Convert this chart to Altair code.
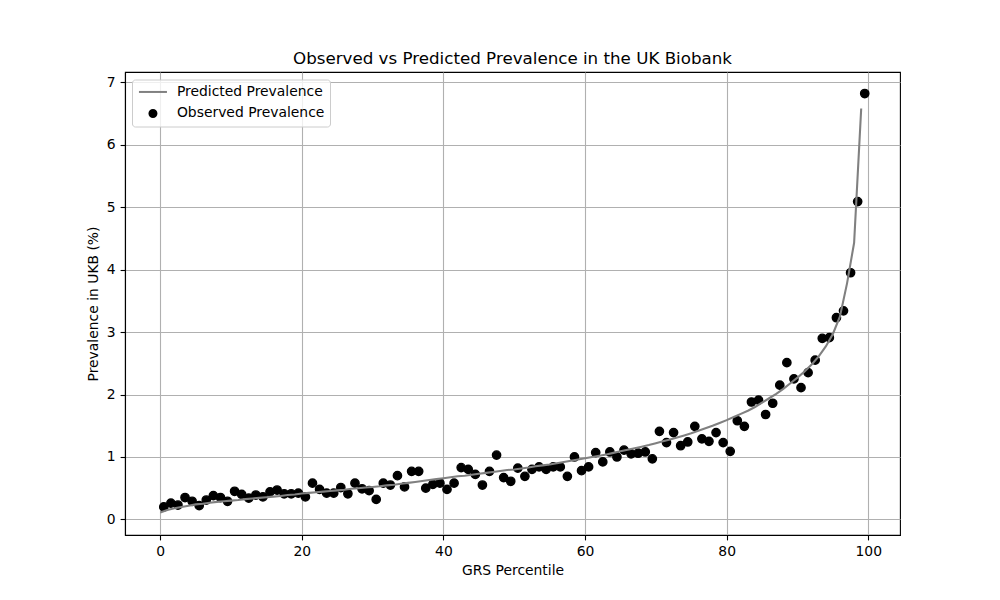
import altair as alt
import pandas as pd

# Observed prevalence (%) per GRS percentile bin (x = 0.5 ... 99.5)
obs_x = [i + 0.5 for i in range(100)]
obs_y = [
    0.20, 0.26, 0.23, 0.35, 0.29, 0.22, 0.31, 0.38, 0.35, 0.29,
    0.45, 0.40, 0.34, 0.39, 0.36, 0.44, 0.47, 0.41, 0.41, 0.42,
    0.36, 0.58, 0.48, 0.42, 0.42, 0.51, 0.41, 0.58, 0.49, 0.46,
    0.32, 0.58, 0.55, 0.70, 0.52, 0.77, 0.77, 0.50, 0.56, 0.58,
    0.48, 0.58, 0.83, 0.80, 0.72, 0.55, 0.77, 1.03, 0.67, 0.61,
    0.82, 0.69, 0.80, 0.84, 0.80, 0.84, 0.84, 0.69, 1.00, 0.78,
    0.84, 1.07, 0.92, 1.08, 1.00, 1.11, 1.05, 1.06, 1.08, 0.97,
    1.41, 1.23, 1.39, 1.18, 1.24, 1.49, 1.29, 1.25, 1.39, 1.23,
    1.09, 1.58, 1.49, 1.88, 1.91, 1.68, 1.86, 2.15, 2.51, 2.25,
    2.11, 2.35, 2.55, 2.90, 2.91, 3.23, 3.34, 3.95, 5.09, 6.82,
]

# Predicted prevalence (%) at percentiles 0 ... 99
pred_x = list(range(100))
pred_y = [
    0.11, 0.15, 0.18, 0.20, 0.22, 0.24, 0.25, 0.265, 0.28, 0.29,
    0.30, 0.31, 0.325, 0.335, 0.345, 0.355, 0.365, 0.375, 0.39, 0.40,
    0.415, 0.425, 0.435, 0.445, 0.455, 0.465, 0.475, 0.49, 0.50, 0.51,
    0.52, 0.53, 0.545, 0.555, 0.57, 0.585, 0.60, 0.615, 0.63, 0.645,
    0.66, 0.675, 0.69, 0.70, 0.715, 0.73, 0.745, 0.76, 0.775, 0.79,
    0.80, 0.815, 0.83, 0.85, 0.865, 0.88, 0.90, 0.92, 0.94, 0.96,
    0.98, 1.00, 1.02, 1.04, 1.065, 1.09, 1.115, 1.14, 1.165, 1.19,
    1.22, 1.25, 1.28, 1.31, 1.345, 1.38, 1.42, 1.46, 1.50, 1.545,
    1.59, 1.64, 1.69, 1.74, 1.80, 1.87, 1.94, 2.01, 2.09, 2.18,
    2.27, 2.37, 2.48, 2.61, 2.77, 2.97, 3.25, 3.78, 4.43, 6.58,
]

series_names = ["Predicted Prevalence", "Observed Prevalence"]
series_colors = ["#808080", "#000000"]

obs_df = pd.DataFrame({"x": obs_x, "y": obs_y, "series": series_names[1]})
pred_df = pd.DataFrame({"x": pred_x, "y": pred_y, "series": series_names[0]})

FONT = "DejaVu Sans"

xscale = alt.Scale(domain=[-4.98, 104.48], nice=False, zero=False)
yscale = alt.Scale(domain=[-0.25, 7.165], nice=False, zero=False)

xaxis = alt.Axis(values=[0, 20, 40, 60, 80, 100], title="GRS Percentile", format="d")
yaxis = alt.Axis(values=[0, 1, 2, 3, 4, 5, 6, 7], title="Prevalence in UKB (%)", format="d")

legend = alt.Legend(
    title=None, orient="none", legendX=7, legendY=7.5,
    padding=5.5, fillColor="rgba(255,255,255,0.8)", strokeColor="#cccccc",
    cornerRadius=3, labelFontSize=13.9, labelFont=FONT, labelColor="black",
    symbolSize=49, symbolOffset=8.5, labelOffset=17, rowPadding=6.5,
    symbolStrokeWidth=2,
)

color_scale = alt.Scale(domain=series_names, range=series_colors)
shape_scale = alt.Scale(domain=series_names, range=["M-4,0L4,0", "circle"])

points = alt.Chart(obs_df).mark_point(filled=True, size=69, strokeWidth=1.39, opacity=1).encode(
    x=alt.X("x:Q", scale=xscale, axis=xaxis),
    y=alt.Y("y:Q", scale=yscale, axis=yaxis),
    fill=alt.Fill("series:N", scale=color_scale, legend=legend),
    stroke=alt.Stroke("series:N", scale=color_scale, legend=legend),
    shape=alt.Shape("series:N", scale=shape_scale, legend=legend),
)

line = alt.Chart(pred_df).mark_line(strokeWidth=2.08).encode(
    x=alt.X("x:Q", scale=xscale, axis=xaxis),
    y=alt.Y("y:Q", scale=yscale, axis=yaxis),
    stroke=alt.Stroke("series:N", scale=color_scale, legend=legend),
)

chart = alt.layer(points, line).properties(
    width=775, height=463,
    background="white",
    autosize=alt.AutoSizeParams(type="none"),
    padding={"left": 117, "top": 64, "right": 92, "bottom": 57},
    title=alt.TitleParams(
        "Observed vs Predicted Prevalence in the UK Biobank",
        font=FONT, fontSize=16.7, fontWeight="normal", color="black",
        anchor="middle", offset=4,
    ),
).configure_view(
    stroke="black", strokeWidth=1.1,
).configure_axis(
    labelFont=FONT, labelFontSize=13.9, labelColor="black",
    titleFont=FONT, titleFontSize=13.9, titleFontWeight="normal", titleColor="black",
    tickColor="black", tickSize=4.9, tickWidth=1.1,
    domainColor="black", domainWidth=1.1,
    gridColor="#b0b0b0", gridWidth=1.1, grid=True, gridOpacity=1,
    labelPadding=4.9,
).configure_axisX(
    titlePadding=5,
).configure_axisY(
    titlePadding=6,
)

chart.save("out.html", embed_options={"renderer": "svg", "actions": False})
